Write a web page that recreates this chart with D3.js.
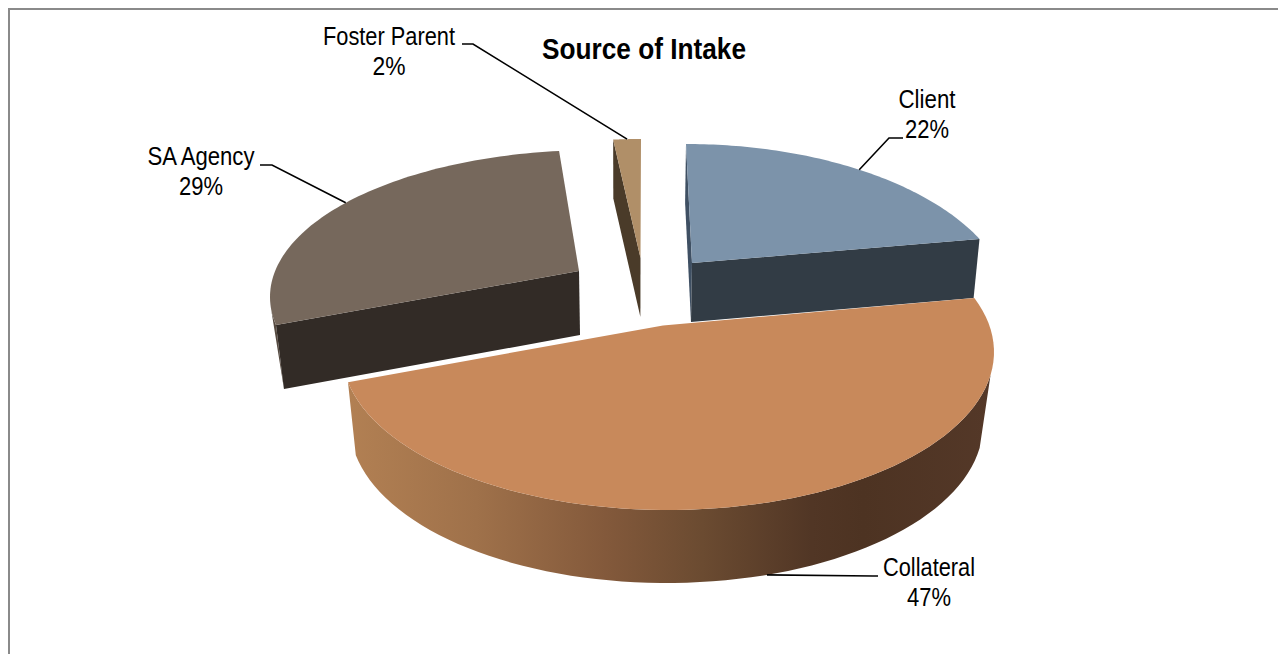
<!DOCTYPE html>
<html><head><meta charset="utf-8">
<script src="https://cdn.jsdelivr.net/npm/d3@7/dist/d3.min.js"></script>
<style>html,body{margin:0;padding:0;background:#fff;overflow:hidden}svg{display:block}text{font-family:"Liberation Sans",Arial,sans-serif;fill:#000}</style>
</head><body><svg id="c" width="1278" height="654"></svg>
<script>
const categories = ["Client","Collateral","SA Agency","Foster Parent"];
const shares = [22,47,29,2];
const titleText = "Source of Intake";

const topColors = ["#7c93aa","#c8895b","#76685c","#b08f68"];
const cutColors = ["#323c45","#54392a","#322b26","#4a3b29"];

// Per-slice 3D placement (order follows categories)
const placement = [
 {rim:{cx:686,cy:312,rx:326,ry:168}, off:[0,-15],      apex:[692,263], depth:59, vx:633, s:.983, cuts:[0,1], label:[927,99],  lw:57, leader:[[903,138],[889,138]], tweak:0},
 {rim:{cx:668,cy:352,rx:326,ry:158}, off:[-9.2,10.6],  apex:[663,325.5], depth:62, vx:630, s:.98, cuts:[], wall:[.148,1], base:{cx:666.5,cy:425,rx:316.5,ry:158}, label:[929,567], lw:92, leader:[[878,576],[873,576]], tweak:-3},
 {rim:{cx:596,cy:297,rx:326,ry:147}, off:[10.6,.7],    apex:[579,271], depth:64, vx:623, s:.977, cuts:[0], sliver:.085, label:[201,156], lw:107, leader:[[260,165],[272,165]], tweak:3.6},
 {rim:{cx:641,cy:307,rx:326,ry:168}, off:[2.3,0],      apex:[640.5,258], depth:59, vx:630, s:.99, cuts:[0], label:[389,36], lw:132, leader:[[462,44],[473,44]], tweak:0}
];

const svg = d3.select("#c");
const rad = Math.PI/180;
const arcs = d3.pie().sort(null).startAngle(0).endAngle(2*Math.PI)(shares);
const line = d3.line().x(d=>d[0]).y(d=>d[1]);

const defs = svg.append("defs");
const wallGrad = defs.append("linearGradient").attr("id","wall").attr("gradientUnits","userSpaceOnUse")
  .attr("x1",348).attr("x2",992).attr("y1",0).attr("y2",0);
[[0,"#b28053"],[.2,"#9f714a"],[.4,"#83593b"],[.55,"#6b4b31"],[.72,"#513625"],[.8,"#4d3322"],[1,"#543828"]]
  .forEach(s=>wallGrad.append("stop").attr("offset",s[0]).attr("stop-color",s[1]));

const onRim = (e,p)=>[e.cx+e.rx*Math.sin(p), e.cy-e.ry*Math.cos(p)];
function slice(i){
  const a=arcs[i], L=placement[i];
  const rimAngle = t => a.startAngle+(a.endAngle-a.startAngle)*t + (L.off[0]+(L.off[1]-L.off[0])*t)*rad;
  const top = t => onRim(L.rim,rimAngle(t));
  const low = (pt,t) => L.base ? onRim(L.base,rimAngle(t)) : [L.vx+(pt[0]-L.vx)*L.s, pt[1]+L.depth];
  return {a,L,rimAngle,top,low};
}
const ts = d3.range(0,1.0001,1/80);

function draw(i){
  const S=slice(i), L=S.L, g=svg.append("g").attr("class","slice");
  const rimPts = ts.map(S.top);
  // outer wall of the big slice
  if(L.wall){
    const ws = ts.filter(t=>t>=L.wall[0]&&t<=L.wall[1]);
    g.append("path").attr("d",line(ws.map(S.top).concat(ws.map(t=>S.low(S.top(t),t)).reverse()))+"Z")
      .attr("fill","url(#wall)");
  }
  // thin visible wall at the rim of the exploded slice
  if(L.sliver){
    const ws = ts.filter(t=>t<=L.sliver), c=S.top(0);
    g.append("path").attr("d",line(ws.map(S.top).concat([S.low(c,0)]))+"Z").attr("fill","#564a40");
  }
  // cut faces
  L.cuts.forEach(c=>{
    const t=c===0?0:1, r=S.top(t), ap=L.apex;
    g.append("path").attr("d",line([r,ap,S.low(ap,t),S.low(r,t)])+"Z")
      .attr("fill",(i===0&&c===0)?"#3f5063":cutColors[i]);
  });
  // top face
  g.append("path").attr("d",line(rimPts.concat([L.apex]))+"Z").attr("fill",topColors[i]);
}
[3,2,0,1].forEach(draw);

// Chart frame
svg.append("path").attr("d","M9,654V9H1278").attr("fill","none").attr("stroke","#8a8a8a").attr("stroke-width",2);

// Title
svg.append("text").attr("x",644).attr("y",59).attr("text-anchor","middle")
  .attr("font-size",30).attr("font-weight","bold")
  .attr("textLength",204).attr("lengthAdjust","spacingAndGlyphs").text(titleText);

// Labels and leaders
categories.forEach((name,i)=>{
  const S=slice(i), L=S.L;
  const pm=S.rimAngle(.5)+L.tweak*rad;
  const anchor=onRim(L.base||L.rim,pm);
  const pct=shares[i]+"%";
  svg.append("path").attr("d",line(L.leader.concat([anchor]))).attr("fill","none")
    .attr("stroke","#000").attr("stroke-width",1.6);
  svg.append("text").attr("x",L.label[0]).attr("y",L.label[1]+8.5).attr("text-anchor","middle")
    .attr("font-size",26).attr("textLength",L.lw).attr("lengthAdjust","spacingAndGlyphs").text(name);
  svg.append("text").attr("x",L.label[0]).attr("y",L.label[1]+38.5).attr("text-anchor","middle")
    .attr("font-size",26).attr("textLength",pct.length===2?33:44).attr("lengthAdjust","spacingAndGlyphs").text(pct);
});
</script></body></html>
